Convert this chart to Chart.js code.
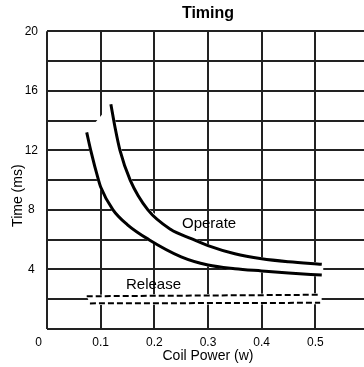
<!DOCTYPE html>
<html>
<head>
<meta charset="utf-8">
<script src="https://cdn.jsdelivr.net/npm/chart.js@4/dist/chart.umd.min.js"></script>
<style>
  html, body { margin: 0; padding: 0; background: #fff; overflow: hidden; }
  canvas { display: block; }
</style>
</head>
<body>
<canvas id="myChart" width="375" height="367"></canvas>
<script>
// values (coil power in W, time in ms)
var operateHiPower = [0.119, 0.127, 0.136, 0.155, 0.188, 0.23, 0.27, 0.3, 0.35, 0.4, 0.45, 0.512];
var operateHiTime  = [15.1, 13.5, 12.0, 10.0, 8.0, 6.7, 6.05, 5.6, 5.05, 4.72, 4.52, 4.35];
var operateLoPower = [0.074, 0.0815, 0.096, 0.1, 0.123, 0.15, 0.19, 0.25, 0.3, 0.35, 0.4, 0.45, 0.512];
var operateLoTime  = [13.2, 12.0, 10.0, 9.54, 8.0, 7.0, 6.0, 4.85, 4.3, 4.05, 3.9, 3.76, 3.62];
var releaseHiPower = [0.074, 0.3, 0.509];
var releaseHiTime  = [2.2, 2.25, 2.3];
var releaseLoPower = [0.08, 0.3, 0.509];
var releaseLoTime  = [1.72, 1.74, 1.76];
var yLabelTicks = [4, 8, 12, 16, 20];

function pts(xs, ys) {
    return xs.map(function (x, i) { return {x: x, y: ys[i]}; });
}
function band(hi, lo) {
    return hi.concat(lo.slice().reverse());
}

var opHi = pts(operateHiPower, operateHiTime);
var opLo = pts(operateLoPower, operateLoTime);
var relHi = pts(releaseHiPower, releaseHiTime);
var relLo = pts(releaseLoPower, releaseLoTime);

var font = "'Liberation Sans', Arial, Helvetica, sans-serif";

// Operate / Release words on the plot
var curveText = {
    id: 'curveText',
    afterDatasetsDraw: function (chart) {
        var c = chart.ctx, xs = chart.scales.x, ys = chart.scales.y;
        c.save();
        c.font = '15px ' + font;
        c.fillStyle = '#000';
        c.textAlign = 'center';
        c.textBaseline = 'middle';
        c.fillText('Operate', xs.getPixelForValue(0.302), ys.getPixelForValue(7.03));
        c.fillText('Release', xs.getPixelForValue(0.1985), ys.getPixelForValue(2.94));
        c.restore();
    }
};

var ctx = document.getElementById('myChart').getContext('2d');
var myChart = new Chart(ctx, {
    type: 'line',
    data: {
        datasets: [{
            label: 'Operate band',
            data: band(opHi, opLo),
            fill: 'shape',
            backgroundColor: '#fff',
            borderColor: '#fff',
            borderWidth: 3,
            pointRadius: 0,
            tension: 0,
            order: 2
        }, {
            label: 'Release band',
            data: band(relHi, relLo),
            fill: 'shape',
            backgroundColor: '#fff',
            borderColor: '#fff',
            borderWidth: 3,
            pointRadius: 0,
            tension: 0,
            order: 2
        }, {
            label: 'Operate max',
            data: opHi,
            borderColor: '#000',
            borderWidth: 3,
            pointRadius: 0,
            cubicInterpolationMode: 'monotone',
            order: 1
        }, {
            label: 'Operate min',
            data: opLo,
            borderColor: '#000',
            borderWidth: 3,
            pointRadius: 0,
            cubicInterpolationMode: 'monotone',
            order: 1
        }, {
            label: 'Release max',
            data: relHi,
            borderColor: '#000',
            borderWidth: 2,
            borderDash: [6, 3],
            pointRadius: 0,
            order: 1
        }, {
            label: 'Release min',
            data: relLo,
            borderColor: '#000',
            borderWidth: 2,
            borderDash: [6, 3],
            pointRadius: 0,
            order: 1
        }]
    },
    plugins: [curveText],
    options: {
        responsive: false,
        animation: false,
        layout: { padding: 0 },
        plugins: {
            legend: { display: false },
            tooltip: { enabled: false },
            title: {
                display: true,
                text: 'Timing',
                fullSize: false,
                color: '#000',
                font: { family: font, size: 16, weight: 'bold' },
                padding: { top: 4, bottom: 8 }
            }
        },
        scales: {
            x: {
                type: 'linear',
                min: 0,
                max: 0.6,
                afterFit: function (s) { s.height = 38; },
                border: { display: false },
                grid: { color: '#222', lineWidth: 2, drawTicks: false },
                ticks: {
                    stepSize: 0.1,
                    autoSkip: false,
                    maxRotation: 0,
                    padding: 6,
                    color: '#000',
                    font: { family: font, size: 12 },
                    callback: function (v) {
                        if (Math.abs(v) < 1e-9) return '0     ';
                        if (v > 0.55) return '';
                        return v.toFixed(1);
                    }
                },
                title: {
                    display: true,
                    text: 'Coil Power (w)',
                    color: '#000',
                    font: { family: font, size: 14 },
                    padding: { top: 0, bottom: 2 }
                }
            },
            y: {
                min: 0,
                max: 20,
                afterFit: function (s) { s.width = 47; },
                border: { display: false },
                grid: { color: '#222', lineWidth: 2, drawTicks: false },
                ticks: {
                    stepSize: 2,
                    autoSkip: false,
                    padding: 9,
                    crossAlign: 'center',
                    color: '#000',
                    font: { family: font, size: 12 },
                    callback: function (v) {
                        return yLabelTicks.indexOf(v) >= 0 ? String(v) : '';
                    }
                },
                title: {
                    display: true,
                    text: 'Time (ms)        ',
                    color: '#000',
                    font: { family: font, size: 14 },
                    padding: { top: 10, bottom: 0 }
                }
            }
        }
    }
});
</script>
</body>
</html>
